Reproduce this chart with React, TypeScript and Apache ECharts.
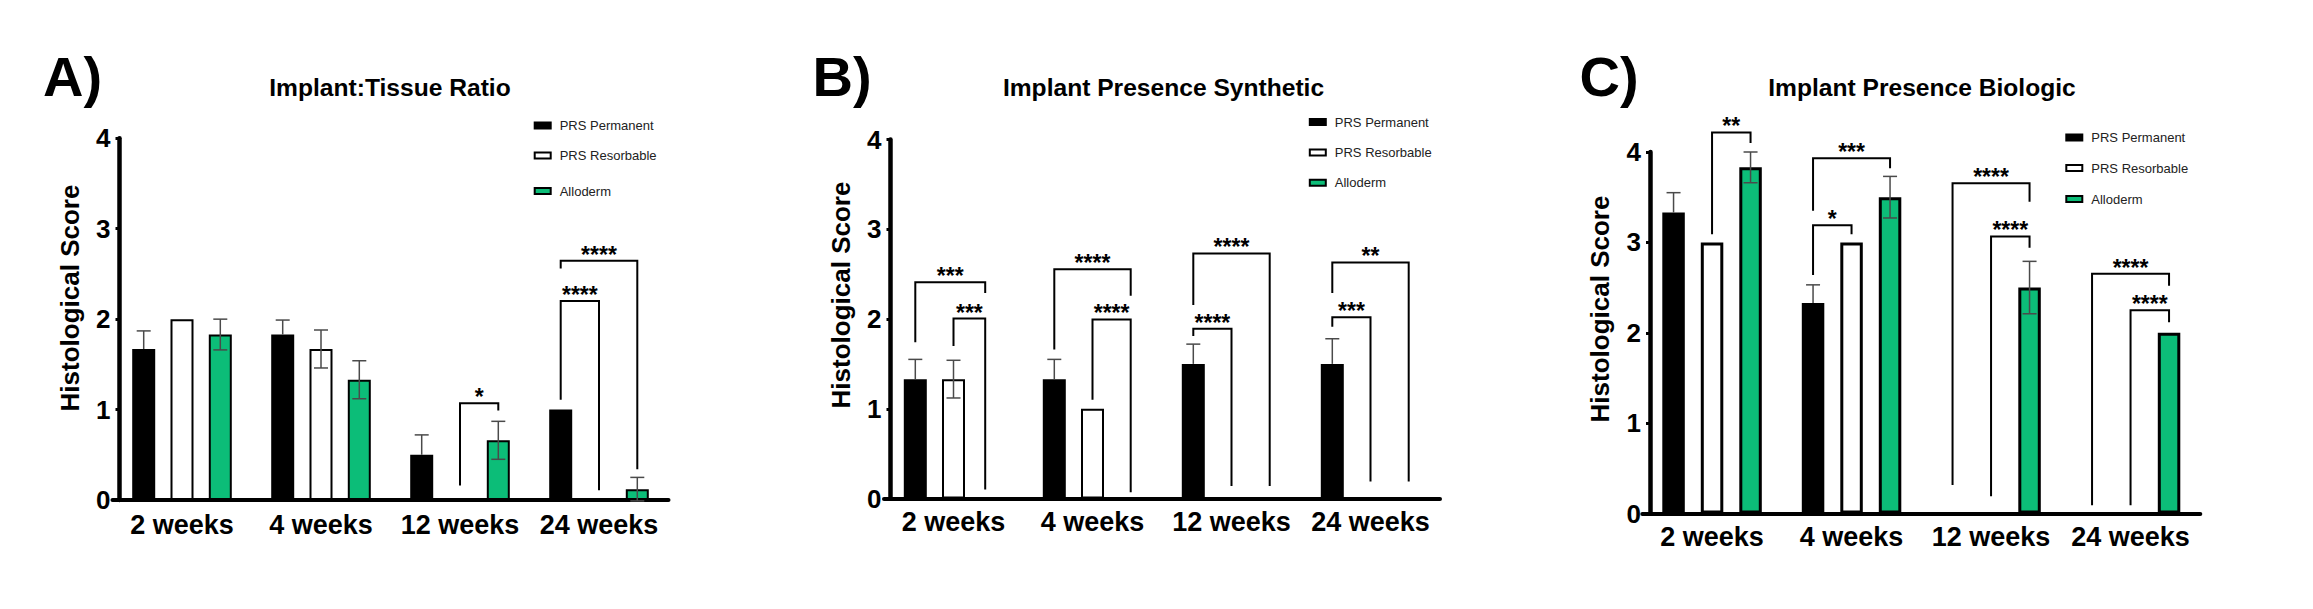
import React, { useEffect, useRef } from 'react';
import * as echarts from 'echarts';

const FONT = 'Liberation Sans, Arial, Helvetica, sans-serif';

// ---------- data ----------
const categories = ['2 weeks', '4 weeks', '12 weeks', '24 weeks'];
const seriesNames = ['PRS Permanent', 'PRS Resorbable', 'Alloderm'];
const panelLetters = ['A)', 'B)', 'C)'];
const panelTitles = ['Implant:Tissue Ratio', 'Implant Presence Synthetic', 'Implant Presence Biologic'];
const yAxisName = 'Histological Score';
const yMin = 0;
const yMax = 4;
const yStep = 1;

// Panel A: Implant:Tissue Ratio
const ratioPermanent = [1.67, 1.83, 0.5, 1.0];
const ratioPermanentErr = [0.2, 0.16, 0.22, 0];
const ratioResorbable = [2.0, 1.67, 0, 0];
const ratioResorbableErr = [0, 0.21, 0, 0];
const ratioAlloderm = [1.83, 1.33, 0.66, 0.12];
const ratioAllodermErr = [0.17, 0.21, 0.21, 0.13];
// [category, fromBar, toBar, top, leftEnd, rightEnd, stars]
const ratioBrackets = [
  [2, 1, 2, 1.07, 0.16, 0.99, 1],
  [3, 0, 1, 2.2, 1.11, 0.107, 4],
  [3, 0, 2, 2.647, 2.56, 0.34, 4],
];

// Panel B: Implant Presence Synthetic
const synthPermanent = [1.33, 1.33, 1.5, 1.5];
const synthPermanentErr = [0.22, 0.22, 0.22, 0.28];
const synthResorbable = [1.33, 1.0, 0, 0];
const synthResorbableErr = [0.21, 0, 0, 0];
const synthAlloderm = [0, 0, 0, 0];
const synthAllodermErr = [0, 0, 0, 0];
const synthBrackets = [
  [0, 0, 1.83, 2.41, 1.74, 2.29, 3],
  [0, 1, 1.83, 2.005, 1.7, 0.1, 3],
  [1, 0, 2, 2.555, 1.66, 2.26, 4],
  [1, 1, 2, 1.995, 1.1, 0.07, 4],
  [2, 0, 2, 2.73, 2.155, 0.14, 4],
  [2, 0, 1, 1.89, 1.81, 0.14, 4],
  [3, 0, 2, 2.63, 2.29, 0.19, 2],
  [3, 0, 1, 2.02, 1.915, 0.19, 3],
];

// Panel C: Implant Presence Biologic
const bioPermanent = [3.33, 2.33, 0, 0];
const bioPermanentErr = [0.22, 0.2, 0, 0];
const bioResorbable = [3.0, 3.0, 0, 0];
const bioResorbableErr = [0, 0, 0, 0];
const bioAlloderm = [3.83, 3.5, 2.5, 2.0];
const bioAllodermErr = [0.17, 0.23, 0.29, 0];
const bioBrackets = [
  [0, 1, 2, 4.217, 3.09, 4.1, 2],
  [1, 0, 2, 3.93, 3.35, 3.82, 3],
  [1, 0, 1, 3.19, 2.64, 3.09, 1],
  [2, 0, 2, 3.655, 0.315, 3.45, 4],
  [2, 1, 2, 3.066, 0.19, 2.94, 4],
  [3, 0, 2, 2.654, 0.09, 2.52, 4],
  [3, 1, 2, 2.25, 0.09, 2.117, 4],
];

const panelValues = [
  [ratioPermanent, ratioResorbable, ratioAlloderm],
  [synthPermanent, synthResorbable, synthAlloderm],
  [bioPermanent, bioResorbable, bioAlloderm],
];
const panelErrors = [
  [ratioPermanentErr, ratioResorbableErr, ratioAllodermErr],
  [synthPermanentErr, synthResorbableErr, synthAllodermErr],
  [bioPermanentErr, bioResorbableErr, bioAllodermErr],
];
const panelBrackets = [ratioBrackets, synthBrackets, bioBrackets];

// ---------- layout / style ----------
const fills = ['#000000', '#ffffff', '#0cbd78'];
const layouts = [
  { left: 112.5, top: 138.3, width: 556, height: 361.7, yOffset: -7, xMargin: 11, bw: 23, sp: 38.3, border: 2,
    letterX: 43, titleX: 390, nameX: 69.8, nameY: 298, legendX: 533.7, legendY: [125.5, 155.5, 191] },
  { left: 884, top: 139.5, width: 556, height: 359, yOffset: -6.5, xMargin: 9.5, bw: 23, sp: 38.2, border: 2,
    letterX: 812.6, titleX: 1163.5, nameX: 840.8, nameY: 295, legendX: 1308.8, legendY: [122.1, 152.6, 182.8] },
  { left: 1642.3, top: 152, width: 558, height: 361.5, yOffset: -7.7, xMargin: 10, bw: 22.5, sp: 38.5, border: 3,
    letterX: 1579.5, titleX: 1922, nameX: 1600.3, nameY: 309, legendX: 2065.3, legendY: [137.5, 168.1, 199] },
];

function buildOption() {
  const grid: any[] = [];
  const xAxis: any[] = [];
  const yAxis: any[] = [];
  const series: any[] = [];
  const legend: any[] = [];
  const graphic: any[] = [];

  layouts.forEach((p, i) => {
    grid.push({ left: p.left, top: p.top, width: p.width, height: p.height });
    xAxis.push({
      type: 'category',
      gridIndex: i,
      data: categories,
      boundaryGap: true,
      axisLine: { lineStyle: { color: '#000', width: 4 } },
      axisTick: { alignWithLabel: true, length: 5, lineStyle: { color: '#000', width: 3 } },
      axisLabel: { interval: 0, margin: p.xMargin, color: '#000', fontSize: 27, fontWeight: 'bold', fontFamily: FONT },
      splitLine: { show: false },
    });
    yAxis.push({
      type: 'value',
      gridIndex: i,
      min: yMin,
      max: yMax,
      interval: yStep,
      offset: p.yOffset,
      axisLine: { show: true, lineStyle: { color: '#000', width: 4.5 } },
      axisTick: { show: true, length: 4, lineStyle: { color: '#000', width: 3 } },
      axisLabel: { margin: 9, color: '#000', fontSize: 26, fontWeight: 'bold', fontFamily: FONT },
      splitLine: { show: false },
    });

    const gapPct = (((p.sp - p.bw) / p.bw) * 100).toFixed(1) + '%';
    seriesNames.forEach((name, s) => {
      series.push({
        type: 'bar',
        name,
        xAxisIndex: i,
        yAxisIndex: i,
        data: panelValues[i][s],
        barWidth: p.bw,
        barGap: gapPct,
        itemStyle: { color: fills[s], borderColor: '#000', borderWidth: p.border },
        z: 2,
      });
      const errData = panelValues[i][s]
        .map((v, k) => [k, v, panelErrors[i][s][k]])
        .filter((d) => d[2] > 0);
      const slot = s;
      const upOnly = s === 0;
      series.push({
        type: 'custom',
        xAxisIndex: i,
        yAxisIndex: i,
        data: errData,
        encode: { x: 0, y: 1 },
        z: 5,
        silent: true,
        renderItem: (params: any, api: any) => {
          const cat = api.value(0);
          const v = api.value(1);
          const e = api.value(2);
          const c = api.coord([cat, v]);
          const x = c[0] + (slot - 1) * p.sp;
          const yt = api.coord([cat, v + e])[1];
          const yb = upOnly ? c[1] : api.coord([cat, v - e])[1];
          const st = { stroke: '#4a4a4a', lineWidth: 1.5 };
          const children: any[] = [
            { type: 'line', shape: { x1: x, y1: yt, x2: x, y2: yb }, style: st },
            { type: 'line', shape: { x1: x - 7, y1: yt, x2: x + 7, y2: yt }, style: st },
          ];
          if (!upOnly) children.push({ type: 'line', shape: { x1: x - 7, y1: yb, x2: x + 7, y2: yb }, style: st });
          return { type: 'group', children };
        },
      });
    });

    series.push({
      type: 'custom',
      xAxisIndex: i,
      yAxisIndex: i,
      data: panelBrackets[i],
      encode: { x: 0, y: 3 },
      z: 6,
      silent: true,
      clip: false,
      renderItem: (params: any, api: any) => {
        const cat = api.value(0);
        const base = api.coord([cat, 0])[0];
        const xl = base + (api.value(1) - 1) * p.sp;
        const xr = base + (api.value(2) - 1) * p.sp;
        const yt = api.coord([cat, api.value(3)])[1];
        const yl = api.coord([cat, api.value(4)])[1];
        const yr = api.coord([cat, api.value(5)])[1];
        const n = api.value(6);
        return {
          type: 'group',
          children: [
            {
              type: 'polyline',
              shape: { points: [[xl, yl], [xl, yt], [xr, yt], [xr, yr]] },
              style: { stroke: '#000', lineWidth: 2, fill: null },
            },
            {
              type: 'text',
              x: (xl + xr) / 2,
              y: yt - 6,
              style: {
                text: '*'.repeat(n),
                align: 'center',
                verticalAlign: 'middle',
                fontSize: 23,
                fontWeight: 'bold',
                fontFamily: FONT,
                fill: '#000',
              },
            },
          ],
        };
      },
    });

    seriesNames.forEach((name, s) => {
      legend.push({
        left: p.legendX,
        top: p.legendY[s] - 7,
        padding: 0,
        orient: 'vertical',
        selectedMode: false,
        itemWidth: 16,
        itemHeight: 6,
        data: [{ name, icon: 'rect', itemStyle: { color: fills[s], borderColor: '#000', borderWidth: 2 } }],
        textStyle: { fontSize: 13, lineHeight: 14, color: '#222', fontFamily: FONT, padding: [0, 0, 0, 4] },
      });
    });

    graphic.push({
      type: 'text',
      x: p.letterX,
      y: 76.4,
      style: { text: panelLetters[i], align: 'left', verticalAlign: 'middle', fontSize: 56, fontWeight: 'bold', fontFamily: FONT, fill: '#000' },
    });
    graphic.push({
      type: 'text',
      x: p.titleX,
      y: 87.8,
      style: { text: panelTitles[i], align: 'center', verticalAlign: 'middle', fontSize: 24.6, fontWeight: 'bold', fontFamily: FONT, fill: '#000' },
    });
    graphic.push({
      type: 'text',
      x: p.nameX,
      y: p.nameY,
      rotation: Math.PI / 2,
      style: { text: yAxisName, align: 'center', verticalAlign: 'middle', fontSize: 26, fontWeight: 'bold', fontFamily: FONT, fill: '#000' },
    });
  });

  return {
    animation: false,
    backgroundColor: '#ffffff',
    grid,
    xAxis,
    yAxis,
    legend,
    series,
    graphic,
  };
}

export default function App() {
  const ref = useRef<HTMLDivElement>(null);
  useEffect(() => {
    document.body.style.margin = '0';
    if (!ref.current) return;
    const chart = echarts.init(ref.current, null, { renderer: 'svg' });
    chart.setOption(buildOption() as any);
    return () => chart.dispose();
  }, []);
  return <div ref={ref} style={{ width: 2313, height: 609, background: '#fff' }} />;
}
